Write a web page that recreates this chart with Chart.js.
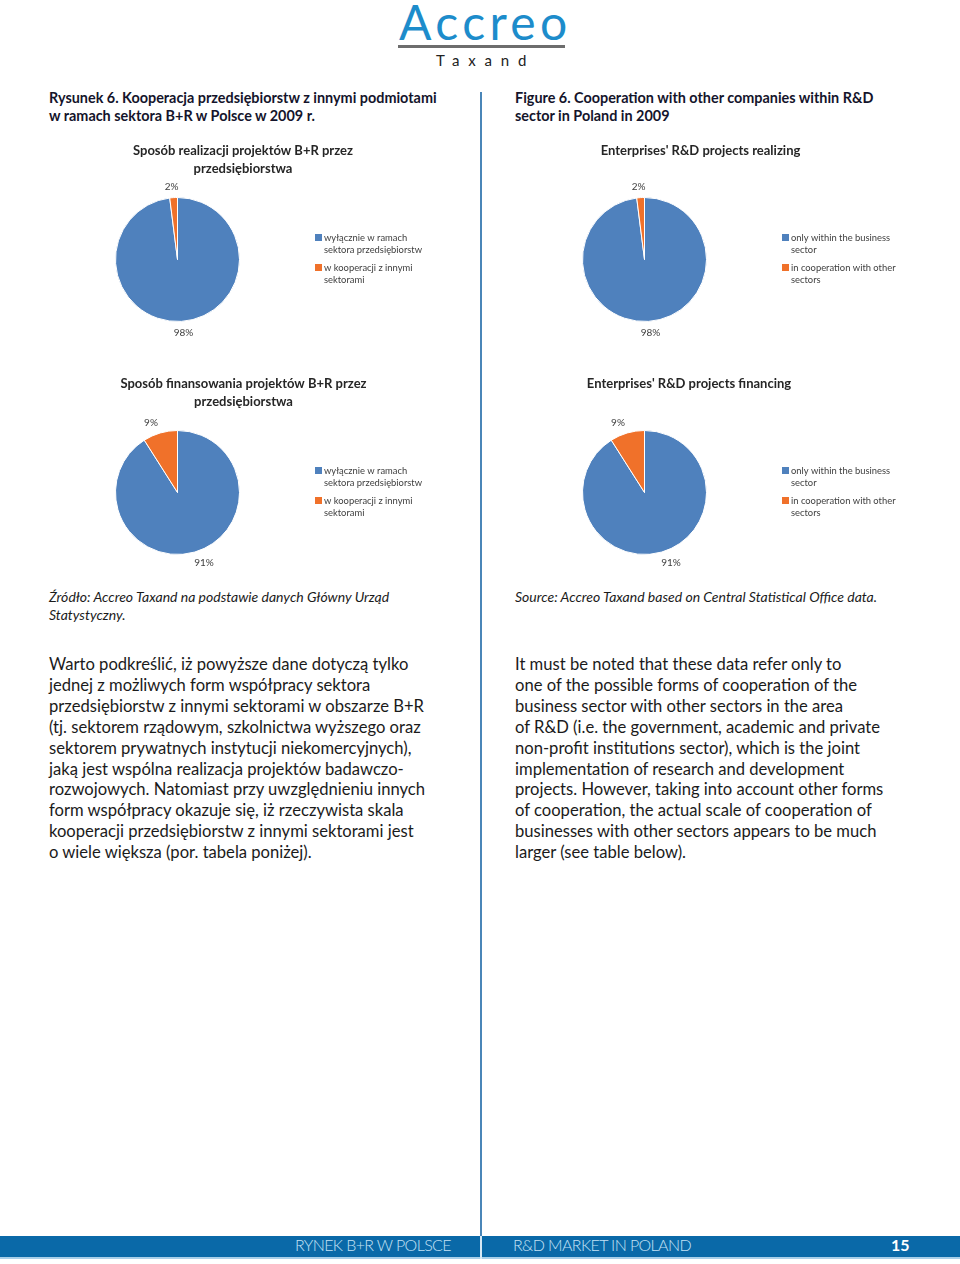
<!DOCTYPE html>
<html lang="pl">
<head>
<meta charset="utf-8">
<title>Rysunek 6 / Figure 6</title>
<script src="https://cdn.jsdelivr.net/npm/chart.js@4.4.1/dist/chart.umd.min.js"></script>
<style>
  html,body{margin:0;padding:0;background:#fff;}
  #page{position:relative;width:960px;height:1264px;overflow:hidden;font-family:Lato,"Open Sans",sans-serif;color:#1b1b1b;}
  .abs{position:absolute;white-space:nowrap;}
  .logo{left:399px;top:-7px;font-size:48px;color:#1d8ccb;letter-spacing:4.4px;}
  .logoLine{left:398px;top:45px;width:167px;height:3px;background:#6d6d6d;}
  .taxand{left:436px;top:51px;font-size:15px;letter-spacing:8.8px;color:#222;}
  .head{top:89px;font-weight:bold;font-size:14.4px;line-height:18px;color:#14142b;}
  .src{top:588px;font-style:italic;font-size:14px;line-height:18px;color:#1b1b1b;}
  .body{top:654px;font-size:16.6px;line-height:20.9px;color:#1b1b1b;}
  .divider{left:480px;top:92px;width:2px;height:1144px;background:#4a86b8;}
  .bar{left:0;top:1236px;width:960px;height:21px;background:#0a69a8;}
  .barLine{left:0;top:1257px;width:960px;height:2px;background:#a9cfe9;}
  .barSep{left:480px;top:1236px;width:2px;height:23px;background:#d7e8f4;}
  .foot{top:1234px;line-height:21px;font-size:16px;color:#c4e2f6;letter-spacing:-0.6px;font-weight:300;}
  canvas{position:absolute;}
</style>
</head>
<body>
<div id="page">
  <div class="abs logo">Accreo</div>
  <div class="abs logoLine"></div>
  <div class="abs taxand">Taxand</div>

  <div class="abs divider"></div>

  <div class="abs head" style="left:49px">Rysunek 6. Kooperacja przedsiębiorstw z innymi podmiotami<br>w ramach sektora B+R w Polsce w 2009 r.</div>
  <div class="abs head" style="left:515px">Figure 6. Cooperation with other companies within R&amp;D<br>sector in Poland in 2009</div>

  <div class="abs src" style="left:49px">Źródło: Accreo Taxand na podstawie danych Główny Urząd<br>Statystyczny.</div>
  <div class="abs src" style="left:515px">Source: Accreo Taxand based on Central Statistical Office data.</div>

  <div class="abs body" style="left:49px">Warto podkreślić, iż powyższe dane dotyczą tylko<br>jednej z możliwych form współpracy sektora<br>przedsiębiorstw z innymi sektorami w obszarze B+R<br>(tj. sektorem rządowym, szkolnictwa wyższego oraz<br>sektorem prywatnych instytucji niekomercyjnych),<br>jaką jest wspólna realizacja projektów badawczo-<br>rozwojowych. Natomiast przy uwzględnieniu innych<br>form współpracy okazuje się, iż rzeczywista skala<br>kooperacji przedsiębiorstw z innymi sektorami jest<br>o wiele większa (por. tabela poniżej).</div>
  <div class="abs body" style="left:515px">It must be noted that these data refer only to<br>one of the possible forms of cooperation of the<br>business sector with other sectors in the area<br>of R&amp;D (i.e. the government, academic and private<br>non-profit institutions sector), which is the joint<br>implementation of research and development<br>projects. However, taking into account other forms<br>of cooperation, the actual scale of cooperation of<br>businesses with other sectors appears to be much<br>larger (see table below).</div>

  <div class="abs bar"></div>
  <div class="abs barLine"></div>
  <div class="abs barSep"></div>
  <div class="abs foot" style="left:295px">RYNEK B+R W POLSCE</div>
  <div class="abs foot" style="left:513px">R&amp;D MARKET IN POLAND</div>
  <div class="abs foot" style="left:891px;color:#fff;font-weight:bold;letter-spacing:0">15</div>
</div>

<script>
// dane z wykresów (GUS 2009)
const realizingValues = [98, 2];
const financingValues = [91, 9];
const legendPL = [['wyłącznie w ramach', 'sektora przedsiębiorstw'], ['w kooperacji z innymi', 'sektorami']];
const legendEN = [['only within the business', 'sector'], ['in cooperation with other', 'sectors']];
const titleRealizingPL = ['Sposób realizacji projektów B+R przez', 'przedsiębiorstwa'];
const titleRealizingEN = ["Enterprises' R&D projects realizing"];
const titleFinancingPL = ['Sposób finansowania projektów B+R przez', 'przedsiębiorstwa'];
const titleFinancingEN = ["Enterprises' R&D projects financing"];
const sliceColors = ['#4f81bd', '#f0712a'];

(() => {
  // tytuł, etykiety % i legenda rysowane na płótnie wykresu
  const pageText = {
    id: 'pageText',
    afterDraw(chart, args, o){
      const ctx = chart.ctx;
      ctx.save();
      ctx.textAlign = 'center'; ctx.textBaseline = 'middle';
      ctx.fillStyle = '#262626';
      ctx.font = 'bold 13px Lato, sans-serif';
      o.title.forEach((t,i)=> ctx.fillText(t, o.titleX, o.titleY + i*18));

      // etykiety "na zewnątrz" jak w Excelu (szerzej w poziomie, bo tekst ma szerokość)
      const ds = chart.data.datasets[0];
      ctx.font = '10px Lato, sans-serif';
      ctx.fillStyle = '#404040';
      chart.getDatasetMeta(0).data.forEach((arc,i)=>{
        const mid = (arc.startAngle + arc.endAngle)/2;
        const r = arc.outerRadius;
        ctx.fillText(ds.data[i] + '%', arc.x + Math.cos(mid)*(r+33), arc.y + Math.sin(mid)*(r+11));
      });

      ctx.textAlign = 'left';
      ctx.font = '9.4px Lato, sans-serif';
      chart.data.labels.forEach((lines,i)=>{
        const y = o.legendY + i*30;
        ctx.fillStyle = ds.backgroundColor[i];
        ctx.fillRect(o.legendX, y-4, 7, 7);
        ctx.fillStyle = '#404040';
        lines.forEach((s,j)=> ctx.fillText(s, o.legendX + 9, y + j*12));
      });
      ctx.restore();
    }
  };

  const charts = [
    { left:100, top:135, title:titleRealizingPL, titleX:143,   labels:legendPL, values:realizingValues },
    { left:567, top:135, title:titleRealizingEN, titleX:133.5, labels:legendEN, values:realizingValues },
    { left:100, top:368, title:titleFinancingPL, titleX:143.5, labels:legendPL, values:financingValues },
    { left:567, top:368, title:titleFinancingEN, titleX:122,   labels:legendEN, values:financingValues },
  ];

  const page = document.getElementById('page');
  charts.forEach(c => {
    const cv = document.createElement('canvas');
    cv.width = 380; cv.height = 230;
    cv.style.left = c.left + 'px'; cv.style.top = c.top + 'px';
    page.appendChild(cv);
    new Chart(cv.getContext('2d'), {
      type: 'pie',
      data: { labels: c.labels, datasets: [{ data: c.values, backgroundColor: sliceColors, borderColor:'#fff', borderWidth:1, hoverOffset:0 }] },
      options: {
        responsive:false, animation:false, devicePixelRatio:1,
        layout: { padding: { left:15, top:62, right:240, bottom:43 } },
        plugins: {
          legend: { display:false }, tooltip: { enabled:false },
          pageText: { title:c.title, titleX:c.titleX, titleY:16, legendX:215, legendY:103 }
        }
      },
      plugins: [pageText]
    });
  });
})();
</script>
</body>
</html>
